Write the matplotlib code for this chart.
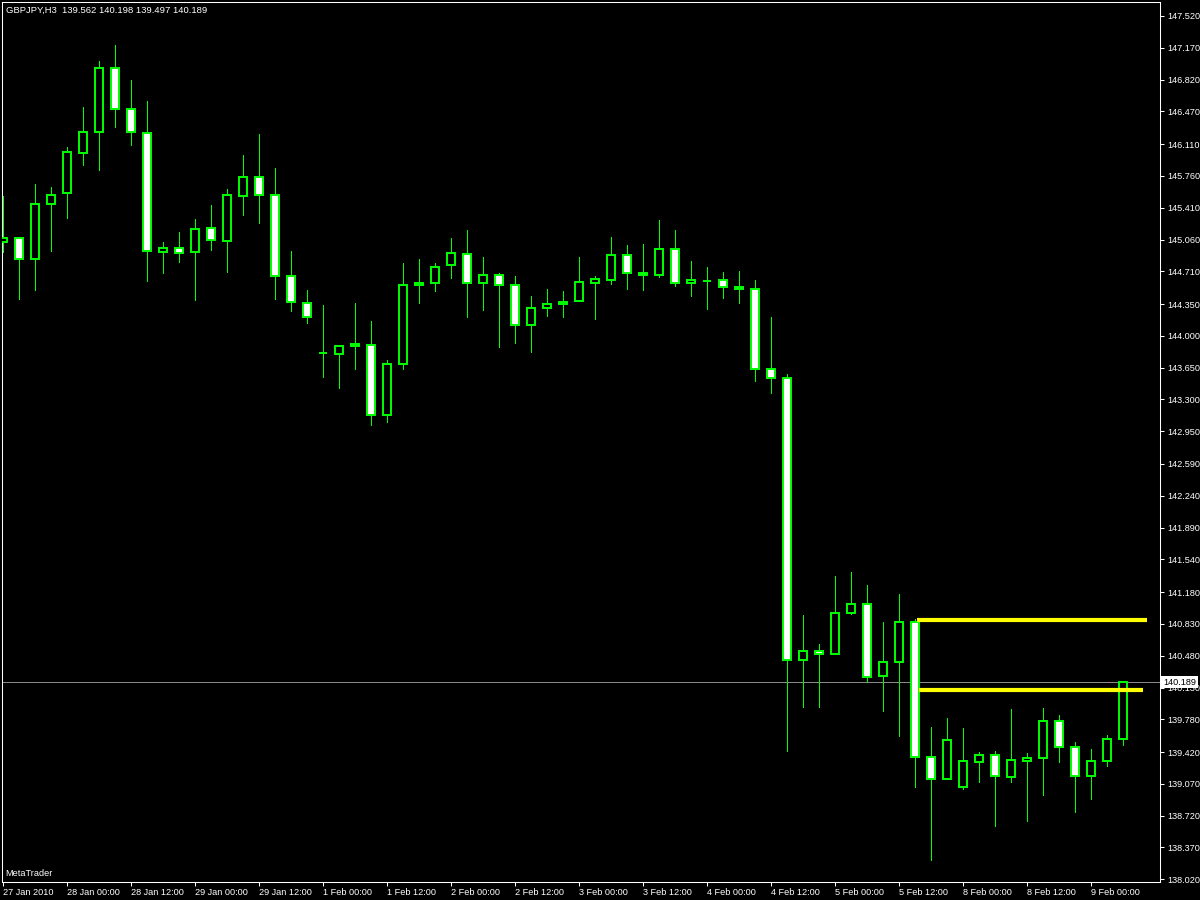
import matplotlib
matplotlib.use("Agg")
import matplotlib.pyplot as plt
import matplotlib.transforms as mtransforms
import numpy as np

plt.rcParams['font.family'] = ['Liberation Sans', 'DejaVu Sans']

symbol = "GBPJPY,H3"

opens = [145.030, 145.074, 144.843, 145.448, 145.569, 146.009, 146.240, 146.944, 146.493, 146.229,
         144.920, 144.964, 144.920, 145.184, 145.041, 145.536, 145.745, 145.547, 144.656, 144.358,
         143.815, 143.797, 143.885, 143.896, 143.126, 143.687, 144.556, 144.578, 144.776, 144.898,
         144.578, 144.666, 144.556, 144.116, 144.303, 144.347, 144.380, 144.578, 144.618, 144.887,
         144.689, 144.666, 144.953, 144.578, 144.607, 144.612, 144.535, 144.513, 143.632, 143.533,
         140.430, 140.529, 140.496, 140.947, 141.046, 140.254, 140.408, 140.848, 139.362, 139.120,
         139.032, 139.307, 139.384, 139.142, 139.318, 139.351, 139.759, 139.473, 139.153, 139.318,
         139.562]
highs = [145.539, 145.085, 145.671, 145.638, 146.078, 146.519, 147.025, 147.201, 146.816, 146.585,
         145.033, 145.143, 145.286, 145.440, 145.616, 145.990, 146.221, 145.847, 144.934, 144.501,
         144.340, 143.900, 144.362, 144.164, 143.734, 144.802, 144.846, 144.802, 145.077, 145.165,
         144.868, 144.692, 144.656, 144.439, 144.516, 144.494, 144.868, 144.659, 145.088, 145.000,
         145.011, 145.275, 145.165, 144.824, 144.758, 144.703, 144.714, 144.615, 144.208, 143.580,
         140.928, 140.609, 141.358, 141.402, 141.259, 140.851, 141.159, 140.881, 139.696, 139.795,
         139.685, 139.417, 139.428, 139.894, 139.406, 139.905, 139.828, 139.528, 139.451, 139.608,
         140.198]
lows = [144.926, 144.409, 144.508, 144.937, 145.300, 145.884, 145.829, 146.302, 146.104, 144.607,
        144.695, 144.816, 144.398, 144.948, 144.706, 145.333, 145.245, 144.409, 144.277, 144.145,
        143.551, 143.430, 143.639, 143.022, 143.055, 143.639, 144.365, 144.497, 144.640, 144.211,
        144.288, 143.881, 143.925, 143.826, 144.222, 144.211, 144.380, 144.189, 144.574, 144.519,
        144.508, 144.651, 144.552, 144.442, 144.299, 144.420, 144.365, 143.507, 143.375, 139.435,
        139.919, 139.919, 140.496, 140.936, 140.194, 139.875, 139.600, 139.039, 138.229, 139.120,
        139.017, 139.094, 138.610, 139.087, 138.658, 138.951, 139.314, 138.757, 138.900, 139.270,
        139.497]
closes = [145.074, 144.843, 145.448, 145.547, 146.020, 146.240, 146.944, 146.493, 146.240, 144.931,
          144.964, 144.909, 145.173, 145.052, 145.547, 145.745, 145.547, 144.656, 144.369, 144.208,
          143.815, 143.885, 143.907, 143.126, 143.687, 144.556, 144.578, 144.754, 144.909, 144.578,
          144.666, 144.556, 144.116, 144.303, 144.347, 144.369, 144.590, 144.623, 144.887, 144.689,
          144.666, 144.953, 144.578, 144.612, 144.607, 144.535, 144.513, 143.632, 143.533, 140.430,
          140.529, 140.496, 140.947, 141.046, 140.243, 140.408, 140.848, 139.362, 139.120, 139.550,
          139.318, 139.384, 139.153, 139.329, 139.351, 139.759, 139.473, 139.153, 139.318, 139.561,
          140.189]

time_tick_index = [0, 4, 8, 12, 16, 20, 24, 28, 32, 36, 40, 44, 48, 52, 56, 60, 64, 68]
time_tick_labels = ["27 Jan 2010", "28 Jan 00:00", "28 Jan 12:00", "29 Jan 00:00", "29 Jan 12:00",
                    "1 Feb 00:00", "1 Feb 12:00", "2 Feb 00:00", "2 Feb 12:00", "3 Feb 00:00",
                    "3 Feb 12:00", "4 Feb 00:00", "4 Feb 12:00", "5 Feb 00:00", "5 Feb 12:00",
                    "8 Feb 00:00", "8 Feb 12:00", "9 Feb 00:00"]
price_ticks = [147.520, 147.170, 146.820, 146.470, 146.110, 145.760, 145.410, 145.060, 144.710,
               144.350, 144.000, 143.650, 143.300, 142.950, 142.590, 142.240, 141.890, 141.540,
               141.180, 140.830, 140.480, 140.130, 139.780, 139.420, 139.070, 138.720, 138.370,
               138.020]

# user-drawn trend lines: (start bar, end bar, price)
trend_starts = [57.125, 57.25]
trend_ends = [71.5, 71.25]
trend_prices = [140.873, 140.103]

GREEN = "#00ff00"

fig = plt.figure(figsize=(12, 9), dpi=100, facecolor="black")
ax = fig.add_axes([2 / 1200, 18 / 900, 1158 / 1200, 880 / 900])
ax.set_facecolor("black")

o = np.array(opens); h = np.array(highs); l = np.array(lows); c = np.array(closes)
x = np.arange(len(o))

ax.axhline(c[-1], color="#8a8a8a", lw=0.5, zorder=1, antialiased=False)
ax.vlines(x, l, h, color=GREEN, lw=0.5, zorder=2, antialiased=False)
face = ["black" if cc > oo else "white" for oo, cc in zip(o, c)]
ax.bar(x, np.abs(c - o), bottom=np.minimum(o, c), width=0.56, color=face,
       edgecolor=GREEN, linewidth=1.4, zorder=3)

for s, e, p in zip(trend_starts, trend_ends, trend_prices):
    ax.plot([s, e], [p, p], color="#ffff00", lw=3, solid_capstyle="butt", zorder=4)

ax.set_xlim(-0.0625, 72.3125)
ax.set_ylim(137.990, 147.674)

ax.yaxis.tick_right()
ax.set_yticks(price_ticks)
ax.set_yticklabels([f"{v:.3f}" for v in price_ticks])
ax.tick_params(axis="y", colors="white", direction="out", length=3, width=0.75,
               labelsize=6.6, pad=2)

ax.set_xticks(time_tick_index)
ax.set_xticklabels(time_tick_labels)
for lab in ax.get_xticklabels():
    lab.set_horizontalalignment("left")
ax.tick_params(axis="x", colors="white", direction="out", length=3, width=0.75,
               labelsize=6.6, pad=1)

for sp in ax.spines.values():
    sp.set_color("white")
    sp.set_linewidth(0.75)

trans = mtransforms.blended_transform_factory(ax.transAxes, ax.transData)
ax.text(1.0 + 3 / 1158, c[-1], f"{c[-1]:.3f}", transform=trans, ha="left", va="center",
        color="black", fontsize=6.6, clip_on=False, zorder=10,
        bbox=dict(facecolor="white", edgecolor="none", pad=1.2))

fig.text(6 / 1200, 1 - 10 / 900,
         f"{symbol}  {o[-1]:.3f} {h[-1]:.3f} {l[-1]:.3f} {c[-1]:.3f}",
         color="white", fontsize=6.8, va="center", ha="left")
fig.text(5 / 1200, (900 - 874) / 900, "MetaTrader", color="white", fontsize=6.6,
         va="center", ha="left")

fig.savefig("out.png", dpi=100, facecolor="black")
